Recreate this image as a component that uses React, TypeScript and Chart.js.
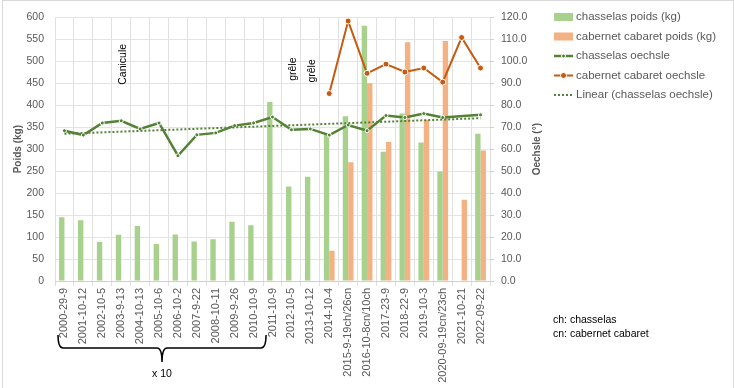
import React, { useEffect, useRef } from 'react';
import { Chart, registerables } from 'chart.js';

Chart.register(...registerables);

const categories = [
  '2000-29-9', '2001-10-12', '2002-10-5', '2003-9-13', '2004-10-13', '2005-10-6',
  '2006-10-2', '2007-9-22', '2008-10-11', '2009-9-26', '2010-10-9', '2011-10-9',
  '2012-10-5', '2013-10-12', '2014-10-4', '2015-9-19ch/26cn', '2016-10-8cn/10ch',
  '2017-23-9', '2018-22-9', '2019-10-3', '2020-09-19cn/23ch', '2021-10-21', '2022-09-22',
];

const chasselasPoids = [145, 138, 89, 105, 125, 84, 106, 90, 95, 135, 127, 407, 215, 237, 333, 375, 581, 294, 381, 315, 249, null, 335];
const cabernetPoids = [null, null, null, null, null, null, null, null, null, null, null, null, null, null, 69, 270, 450, 316, 543, 367, 546, 185, 297];
const chasselasOechsle = [68.4, 66.4, 71.9, 72.9, 69.2, 71.9, 57.0, 66.5, 67.4, 70.7, 71.9, 74.6, 68.8, 69.2, 66.4, 71.0, 68.4, 75.3, 74.4, 76.2, 74.4, null, 75.6];
const cabernetOechsle = [null, null, null, null, null, null, null, null, null, null, null, null, null, null, 85.3, 118.3, 94.5, 98.7, 95.1, 96.9, 90.5, 110.8, 96.9];
const trendOechsle = [67.0, null, null, null, null, null, null, null, null, null, null, null, null, null, null, null, null, null, null, null, null, null, 74.1];

const seriesLabels = [
  'chasselas poids (kg)',
  'cabernet cabaret poids (kg)',
  'chasselas oechsle',
  'cabernet cabaret oechsle',
  'Linear (chasselas oechsle)',
];

const annotationLabels = ['Canicule', 'grêle', 'grêle'];
const annotationCategories = ['2003-9-13', '2012-10-5', '2013-10-12'];
const annotationKg = [493, 482, 478];

const braceFrom = '2000-29-9';
const braceTo = '2010-10-9';
const braceLabel = 'x 10';
const notes = ['ch: chasselas', 'cn: cabernet cabaret'];
const leftTitle = 'Poids (kg)';
const rightTitle = 'Oechsle (°)';

const FONT = "'Liberation Sans', Arial, sans-serif";
const GREEN_BAR = '#a9d18e';
const ORANGE_BAR = '#f4b183';
const GREEN_LINE = '#548235';
const ORANGE_LINE = '#c55a11';
const TEXT = '#595959';

const extrasPlugin = {
  id: 'extras',
  afterDraw(chart: any) {
    const ctx = chart.ctx;
    const xs = chart.scales.x;
    const ys = chart.scales.y;
    const area = chart.chartArea;
    ctx.save();

    // chart border
    ctx.strokeStyle = '#d9d9d9';
    ctx.lineWidth = 1;
    ctx.strokeRect(2.5, 0.5, 731, 400);

    // axis titles
    ctx.fillStyle = TEXT;
    ctx.font = `bold 10px ${FONT}`;
    ctx.textAlign = 'center';
    ctx.textBaseline = 'middle';
    const cy = (area.top + area.bottom) / 2;
    ctx.save();
    ctx.translate(18, cy);
    ctx.rotate(-Math.PI / 2);
    ctx.fillText(leftTitle, 0, 0);
    ctx.restore();
    ctx.save();
    ctx.translate(537, cy);
    ctx.rotate(-Math.PI / 2);
    ctx.fillText(rightTitle, 0, 0);
    ctx.restore();

    // annotations
    ctx.fillStyle = '#000';
    ctx.font = `10.5px ${FONT}`;
    annotationLabels.forEach((lab, i) => {
      const idx = categories.indexOf(annotationCategories[i]);
      const x = xs.getPixelForValue(idx) + 2;
      const y = ys.getPixelForValue(annotationKg[i]);
      ctx.save();
      ctx.translate(x, y);
      ctx.rotate(-Math.PI / 2);
      ctx.fillText(lab, 0, 0);
      ctx.restore();
    });

    // brace
    const half = (xs.getPixelForValue(1) - xs.getPixelForValue(0)) / 2;
    const L = xs.getPixelForValue(categories.indexOf(braceFrom)) - half + 3;
    const R = xs.getPixelForValue(categories.indexOf(braceTo)) + half + 3;
    const C = (L + R) / 2;
    const top = 335, mid = 348, tip = 362, r = 5;
    ctx.strokeStyle = '#000';
    ctx.lineWidth = 1.5;
    ctx.beginPath();
    ctx.moveTo(L, top);
    ctx.quadraticCurveTo(L, mid, L + r, mid);
    ctx.lineTo(C - r, mid);
    ctx.quadraticCurveTo(C, mid, C, tip);
    ctx.quadraticCurveTo(C, mid, C + r, mid);
    ctx.lineTo(R - r, mid);
    ctx.quadraticCurveTo(R, mid, R, top);
    ctx.stroke();
    ctx.fillText(braceLabel, C, 374);

    // notes
    ctx.textAlign = 'left';
    notes.forEach((n, i) => ctx.fillText(n, 553, 320 + i * 14));

    // legend
    const lx = 554;
    const ly0 = 17;
    const dy = 19.5;
    ctx.font = `11.5px ${FONT}`;
    chart.data.datasets.forEach((ds: any, i: number) => {
      const y = ly0 + i * dy;
      if (ds.type === 'bar') {
        ctx.fillStyle = ds.backgroundColor;
        ctx.fillRect(lx, y - 4, 19, 8);
      } else {
        ctx.strokeStyle = ds.borderColor;
        ctx.lineWidth = ds.borderWidth;
        ctx.setLineDash(ds.borderDash || []);
        ctx.beginPath();
        ctx.moveTo(lx, y);
        ctx.lineTo(lx + 19, y);
        ctx.stroke();
        ctx.setLineDash([]);
        if (ds.pointRadius > 0) {
          ctx.beginPath();
          ctx.arc(lx + 9.5, y, ds.pointRadius, 0, Math.PI * 2);
          ctx.fillStyle = ds.pointBackgroundColor;
          ctx.fill();
          ctx.lineWidth = ds.pointBorderWidth;
          ctx.strokeStyle = ds.pointBorderColor;
          ctx.stroke();
        }
      }
      ctx.fillStyle = TEXT;
      ctx.fillText(ds.label, lx + 22, y);
    });

    ctx.restore();
  },
};

export default function App() {
  const ref = useRef<HTMLCanvasElement>(null);

  useEffect(() => {
    if (!ref.current) return;
    const chart = new Chart(ref.current, {
      type: 'bar',
      data: {
        labels: categories,
        datasets: [
          {
            type: 'bar',
            label: seriesLabels[0],
            data: chasselasPoids,
            backgroundColor: GREEN_BAR,
            yAxisID: 'y',
            order: 3,
            categoryPercentage: 0.57,
            barPercentage: 1,
          },
          {
            type: 'bar',
            label: seriesLabels[1],
            data: cabernetPoids,
            backgroundColor: ORANGE_BAR,
            yAxisID: 'y',
            order: 4,
            categoryPercentage: 0.57,
            barPercentage: 1,
          },
          {
            type: 'line',
            label: seriesLabels[2],
            data: chasselasOechsle,
            borderColor: GREEN_LINE,
            borderWidth: 2.5,
            pointRadius: 2,
            pointBackgroundColor: GREEN_LINE,
            pointBorderColor: '#ffffff',
            pointBorderWidth: 1,
            spanGaps: true,
            yAxisID: 'y1',
            order: 2,
          },
          {
            type: 'line',
            label: seriesLabels[3],
            data: cabernetOechsle,
            borderColor: ORANGE_LINE,
            borderWidth: 2,
            pointRadius: 3,
            pointBackgroundColor: ORANGE_LINE,
            pointBorderColor: '#ffffff',
            pointBorderWidth: 1,
            spanGaps: false,
            yAxisID: 'y1',
            order: 1,
          },
          {
            type: 'line',
            label: seriesLabels[4],
            data: trendOechsle,
            borderColor: GREEN_LINE,
            borderWidth: 2,
            borderDash: [2, 2],
            pointRadius: 0,
            spanGaps: true,
            yAxisID: 'y1',
            order: 0,
          },
        ] as any,
      },
      options: {
        responsive: false,
        maintainAspectRatio: false,
        animation: false,
        layout: { padding: { left: 0, right: 194, top: 12, bottom: 0 } },
        plugins: {
          legend: { display: false },
          tooltip: { enabled: false },
        },
        scales: {
          x: {
            offset: true,
            grid: { offset: true, color: '#e0e0e0', tickLength: 5, drawTicks: true },
            border: { color: '#d0d0d0' },
            ticks: {
              autoSkip: false,
              minRotation: 90,
              maxRotation: 90,
              padding: 2,
              color: TEXT,
              font: { family: FONT, size: 11 },
            },
            afterFit: (s: any) => { s.height = 107; },
          },
          y: {
            position: 'left',
            min: 0,
            max: 600,
            grid: { color: '#e4e4e4', drawTicks: false },
            border: { display: false },
            ticks: {
              stepSize: 25,
              padding: 11,
              color: TEXT,
              font: { family: FONT, size: 10.5 },
              callback: (v: any) => (v % 50 === 0 ? String(v) : ''),
            },
            afterFit: (s: any) => { s.width = 55; },
          },
          y1: {
            position: 'right',
            min: 0,
            max: 120,
            grid: { drawOnChartArea: false, color: '#d0d0d0', tickLength: 4 },
            border: { display: false },
            ticks: {
              stepSize: 10,
              padding: 7,
              color: TEXT,
              font: { family: FONT, size: 10.5 },
              callback: (v: any) => Number(v).toFixed(1),
            },
            afterFit: (s: any) => { s.width = 50; },
          },
        },
      } as any,
      plugins: [extrasPlugin],
    });
    return () => chart.destroy();
  }, []);

  return (
    <div style={{ position: 'fixed', left: 0, top: 0, width: 734, height: 388, background: '#fff' }}>
      <canvas ref={ref} width={734} height={388} />
    </div>
  );
}
